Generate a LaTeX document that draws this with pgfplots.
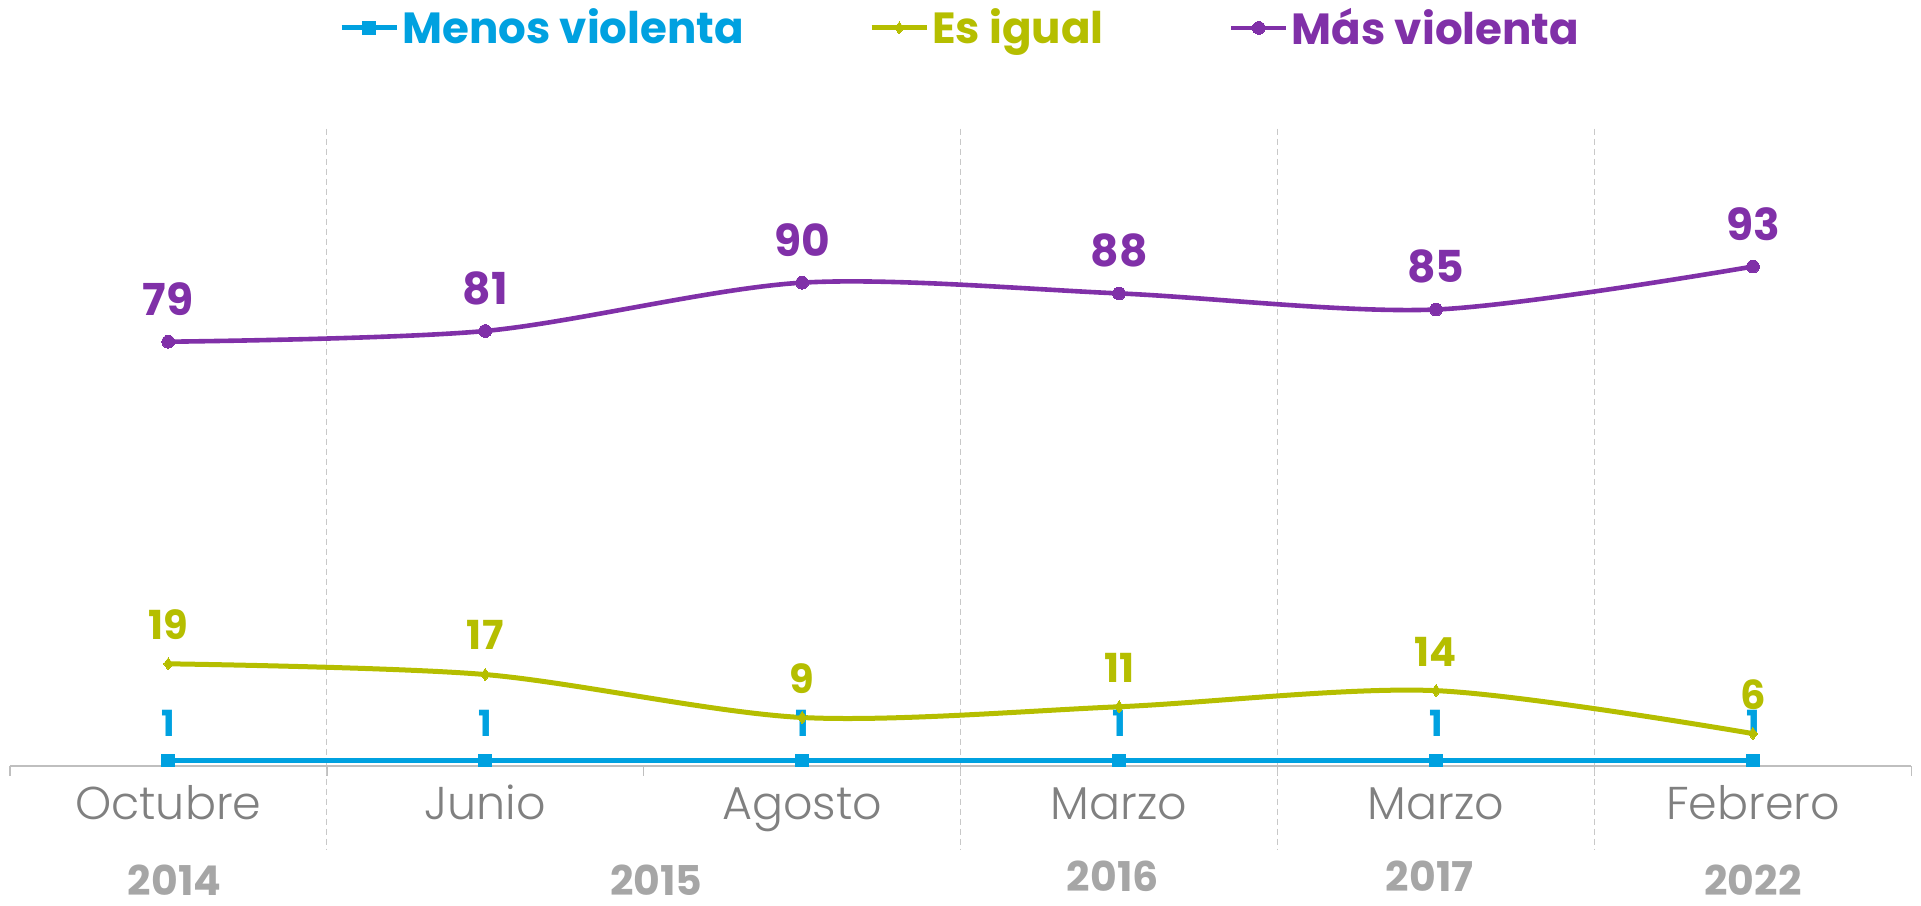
\documentclass[border=0pt]{standalone}
\usepackage{fontspec}
\setmainfont{Poppins}
\newfontfamily\lightfont{Poppins Light}
\usepackage{pgfplots}
\pgfplotsset{compat=1.18}
\definecolor{cblue}{RGB}{0,161,224}
\definecolor{cgreen}{RGB}{181,190,0}
\definecolor{cpurple}{RGB}{128,48,168}
\definecolor{axisgray}{RGB}{191,191,191}
\definecolor{tickgray}{RGB}{128,128,128}
\definecolor{yeargray}{RGB}{166,166,166}
\definecolor{dashgray}{RGB}{200,200,200}
\begin{document}
\begin{tikzpicture}
\useasboundingbox (-4.9pt,-69.6pt) rectangle (955.6pt,382.9pt);
\begin{axis}[
  at={(0,0)}, anchor=south west,
  width=950.8pt, height=318.6pt, scale only axis,
  xmin=-0.5, xmax=5.5, ymin=0, ymax=118.7,
  axis x line*=bottom, axis y line=none,
  x axis line style={draw=axisgray, line width=1pt, -},
  xtick={0,...,5},
  xticklabels={Octubre,Junio,Agosto,Marzo,Marzo,Febrero},
  major tick length=0pt,
  minor xtick={-0.5,0.5,1.5,2.5,3.5,4.5,5.5},
  minor tick length=5pt,
  xtick align=outside,
  minor tick style={draw=axisgray, line width=0.8pt},
  major tick style={draw=none},
  xticklabel style={font=\lightfont\fontsize{23}{26}\selectfont, text=tickgray, anchor=base, yshift=-27pt},
  /pgf/number format/assume math mode=true,
  clip=false,
  legend style={at={(0.5,1.158)}, anchor=center, draw=none, fill=none,
    font=\bfseries\fontsize{21.8}{26}\selectfont,
    nodes={inner sep=1.5pt},
    /tikz/every even column/.append style={column sep=61pt}},
  legend columns=3,
  legend image code/.code={\draw[mark repeat=2,mark phase=2] plot coordinates {(0pt,0pt) (13.8pt,0pt) (27.6pt,0pt)};},
]
\draw[dashgray, line width=0.7pt, dash pattern=on 3pt off 2pt] (axis cs:0.5,118.7) -- ([yshift=-41.7pt]axis cs:0.5,0);
\draw[dashgray, line width=0.7pt, dash pattern=on 3pt off 2pt] (axis cs:2.5,118.7) -- ([yshift=-41.7pt]axis cs:2.5,0);
\draw[dashgray, line width=0.7pt, dash pattern=on 3pt off 2pt] (axis cs:3.5,118.7) -- ([yshift=-41.7pt]axis cs:3.5,0);
\draw[dashgray, line width=0.7pt, dash pattern=on 3pt off 2pt] (axis cs:4.5,118.7) -- ([yshift=-41.7pt]axis cs:4.5,0);

\addplot[smooth, color=cblue, line width=2.5pt, mark=square*, mark size=3.2pt,
  mark options={solid, fill=cblue, line width=0pt},
  nodes near coords,
  every node near coord/.append style={font=\bfseries\fontsize{18}{22}\selectfont, text=cblue, anchor=center, yshift=18.4pt}]
  coordinates {(0,1) (1,1) (2,1) (3,1) (4,1) (5,1)};
\addlegendentry{\textcolor{cblue}{Menos violenta}}

\addplot[smooth, color=cgreen, line width=2.5pt, mark=diamond*, mark size=3pt,
  mark options={solid, fill=cgreen, line width=0pt},
  nodes near coords,
  every node near coord/.append style={font=\bfseries\fontsize{20}{24}\selectfont, text=cgreen, anchor=center, yshift=19.6pt}]
  coordinates {(0,19) (1,17) (2,9) (3,11) (4,14) (5,6)};
\addlegendentry{\textcolor{cgreen}{Es igual}}

\addplot[smooth, color=cpurple, line width=2.3pt, mark=*, mark size=3.2pt,
  mark options={solid, fill=cpurple, line width=0pt},
  nodes near coords,
  every node near coord/.append style={font=\bfseries\fontsize{22}{26}\selectfont, text=cpurple, anchor=center, yshift=21.4pt}]
  coordinates {(0,79) (1,81) (2,90) (3,88) (4,85) (5,93)};
\addlegendentry{\textcolor{cpurple}{Más violenta}}

\tikzset{yearlbl/.style={font=\bfseries\fontsize{20.5}{24}\selectfont, text=yeargray, anchor=base, inner sep=0pt}}
\node[yearlbl] at ([yshift=-64.8pt]axis cs:0.02,0) {2014};
\node[yearlbl] at ([yshift=-64.8pt]axis cs:1.54,0) {2015};
\node[yearlbl] at ([yshift=-62.9pt]axis cs:2.98,0) {2016};
\node[yearlbl] at ([yshift=-62.9pt]axis cs:3.98,0) {2017};
\node[yearlbl] at ([yshift=-64.8pt]axis cs:5.0,0) {2022};
\end{axis}
\end{tikzpicture}
\end{document}
